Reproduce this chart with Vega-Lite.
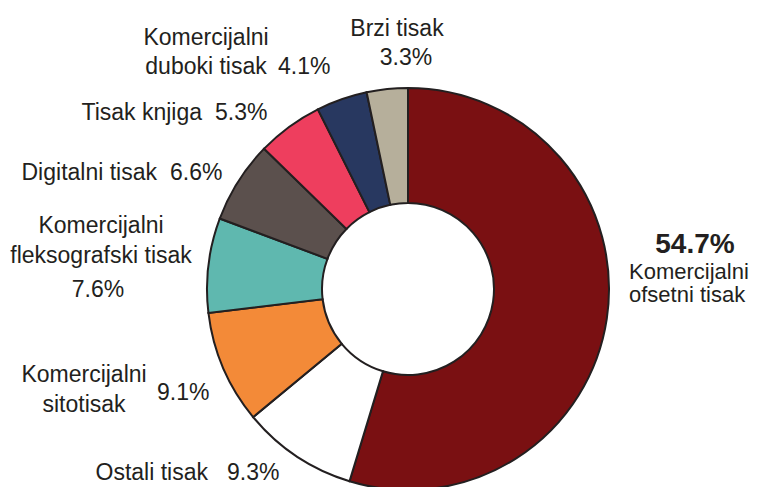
{
  "$schema": "https://vega.github.io/schema/vega-lite/v6.json",
  "autosize": {"type": "none"},
  "width": 700,
  "height": 396,
  "padding": {"left": 58, "top": 91, "right": 0, "bottom": 0},
  "background": "#ffffff",
  "config": {"view": {"stroke": null}},
  "data": {
    "values": [
      {"idx": 1, "id": "ofs", "name": "Komercijalni\nofsetni tisak", "value": 0.547},
      {"idx": 2, "id": "ost", "name": "Ostali tisak", "value": 0.093},
      {"idx": 3, "id": "sit", "name": "Komercijalni\nsitotisak", "value": 0.091},
      {"idx": 4, "id": "fle", "name": "Komercijalni\nfleksografski tisak", "value": 0.076},
      {"idx": 5, "id": "dig", "name": "Digitalni tisak", "value": 0.066},
      {"idx": 6, "id": "knj", "name": "Tisak knjiga", "value": 0.053},
      {"idx": 7, "id": "dub", "name": "Komercijalni\nduboki tisak", "value": 0.041},
      {"idx": 8, "id": "brz", "name": "Brzi tisak", "value": 0.033}
    ]
  },
  "encoding": {
    "theta": {"field": "value", "type": "quantitative", "stack": true},
    "order": {"field": "idx", "type": "quantitative"},
    "detail": {"field": "id", "type": "nominal"}
  },
  "layer": [
    {
      "mark": {"type": "arc", "outerRadius": 201, "innerRadius": 86, "stroke": "#231F20", "strokeWidth": 2},
      "encoding": {
        "color": {
          "field": "id", "type": "nominal", "legend": null,
          "scale": {
            "domain": ["ofs", "ost", "sit", "fle", "dig", "knj", "dub", "brz"],
            "range": ["#7A1012", "#FFFFFF", "#F38A38", "#5FB8AF", "#5B504D", "#EE3E5E", "#283860", "#B6AF9B"]
          }
        }
      }
    },
    {
      "mark": {"type": "text", "radius": 230, "dx": 59.5, "dy": -69.5, "align": "center", "baseline": "alphabetic", "font": "Liberation Sans", "fontSize": 28, "fontWeight": "bold", "color": "#231F20"},
      "encoding": {"text": {"condition": {"test": "datum.id === 'ofs'", "field": "value", "type": "quantitative", "format": ".1%"}, "value": ""}}
    },
    {
      "mark": {"type": "text", "radius": 230, "dx": -6.5, "dy": -44.3, "align": "left", "baseline": "alphabetic", "font": "Liberation Sans", "fontSize": 22, "lineBreak": "\n", "lineHeight": 23, "color": "#231F20"},
      "encoding": {"text": {"condition": {"test": "datum.id === 'ofs'", "field": "name", "type": "nominal"}, "value": ""}}
    },
    {
      "mark": {"type": "text", "radius": 230, "dx": -72.5, "dy": 0, "align": "right", "baseline": "alphabetic", "font": "Liberation Sans", "fontSize": 23, "color": "#231F20"},
      "encoding": {"text": {"condition": {"test": "datum.id === 'ost'", "field": "name", "type": "nominal"}, "value": ""}}
    },
    {
      "mark": {"type": "text", "radius": 230, "dx": -53.5, "dy": 0, "align": "left", "baseline": "alphabetic", "font": "Liberation Sans", "fontSize": 23, "color": "#231F20"},
      "encoding": {"text": {"condition": {"test": "datum.id === 'ost'", "field": "value", "type": "quantitative", "format": ".1%"}, "value": ""}}
    },
    {
      "mark": {"type": "text", "radius": 230, "dx": -112.6, "dy": 2.3, "align": "center", "baseline": "alphabetic", "font": "Liberation Sans", "fontSize": 23, "lineBreak": "\n", "lineHeight": 30, "color": "#231F20"},
      "encoding": {"text": {"condition": {"test": "datum.id === 'sit'", "field": "name", "type": "nominal"}, "value": ""}}
    },
    {
      "mark": {"type": "text", "radius": 230, "dx": -39.6, "dy": 20.3, "align": "left", "baseline": "alphabetic", "font": "Liberation Sans", "fontSize": 23, "color": "#231F20"},
      "encoding": {"text": {"condition": {"test": "datum.id === 'sit'", "field": "value", "type": "quantitative", "format": ".1%"}, "value": ""}}
    },
    {
      "mark": {"type": "text", "radius": 230, "dx": -78.6, "dy": -28.6, "align": "center", "baseline": "alphabetic", "font": "Liberation Sans", "fontSize": 23, "lineBreak": "\n", "lineHeight": 30, "color": "#231F20"},
      "encoding": {"text": {"condition": {"test": "datum.id === 'fle'", "field": "name", "type": "nominal"}, "value": ""}}
    },
    {
      "mark": {"type": "text", "radius": 230, "dx": -81.6, "dy": 35.4, "align": "center", "baseline": "alphabetic", "font": "Liberation Sans", "fontSize": 23, "color": "#231F20"},
      "encoding": {"text": {"condition": {"test": "datum.id === 'fle'", "field": "value", "type": "quantitative", "format": ".1%"}, "value": ""}}
    },
    {
      "mark": {"type": "text", "radius": 230, "dx": -56.8, "dy": 14.2, "align": "right", "baseline": "alphabetic", "font": "Liberation Sans", "fontSize": 23, "color": "#231F20"},
      "encoding": {"text": {"condition": {"test": "datum.id === 'dig'", "field": "name", "type": "nominal"}, "value": ""}}
    },
    {
      "mark": {"type": "text", "radius": 230, "dx": -43.8, "dy": 14.2, "align": "left", "baseline": "alphabetic", "font": "Liberation Sans", "fontSize": 23, "color": "#231F20"},
      "encoding": {"text": {"condition": {"test": "datum.id === 'dig'", "field": "value", "type": "quantitative", "format": ".1%"}, "value": ""}}
    },
    {
      "mark": {"type": "text", "radius": 230, "dx": -70.2, "dy": 16.6, "align": "right", "baseline": "alphabetic", "font": "Liberation Sans", "fontSize": 23, "color": "#231F20"},
      "encoding": {"text": {"condition": {"test": "datum.id === 'knj'", "field": "name", "type": "nominal"}, "value": ""}}
    },
    {
      "mark": {"type": "text", "radius": 230, "dx": -57.2, "dy": 16.6, "align": "left", "baseline": "alphabetic", "font": "Liberation Sans", "fontSize": 23, "color": "#231F20"},
      "encoding": {"text": {"condition": {"test": "datum.id === 'knj'", "field": "value", "type": "quantitative", "format": ".1%"}, "value": ""}}
    },
    {
      "mark": {"type": "text", "radius": 230, "dx": -126.1, "dy": -26.9, "align": "center", "baseline": "alphabetic", "font": "Liberation Sans", "fontSize": 23, "lineBreak": "\n", "lineHeight": 29, "color": "#231F20"},
      "encoding": {"text": {"condition": {"test": "datum.id === 'dub'", "field": "name", "type": "nominal"}, "value": ""}}
    },
    {
      "mark": {"type": "text", "radius": 230, "dx": -54.1, "dy": 2.1, "align": "left", "baseline": "alphabetic", "font": "Liberation Sans", "fontSize": 23, "color": "#231F20"},
      "encoding": {"text": {"condition": {"test": "datum.id === 'dub'", "field": "value", "type": "quantitative", "format": ".1%"}, "value": ""}}
    },
    {
      "mark": {"type": "text", "radius": 230, "dx": 12.8, "dy": -24.2, "align": "center", "baseline": "alphabetic", "font": "Liberation Sans", "fontSize": 23, "color": "#231F20"},
      "encoding": {"text": {"condition": {"test": "datum.id === 'brz'", "field": "name", "type": "nominal"}, "value": ""}}
    },
    {
      "mark": {"type": "text", "radius": 230, "dx": 21.8, "dy": 4.8, "align": "center", "baseline": "alphabetic", "font": "Liberation Sans", "fontSize": 23, "color": "#231F20"},
      "encoding": {"text": {"condition": {"test": "datum.id === 'brz'", "field": "value", "type": "quantitative", "format": ".1%"}, "value": ""}}
    }
  ]
}
